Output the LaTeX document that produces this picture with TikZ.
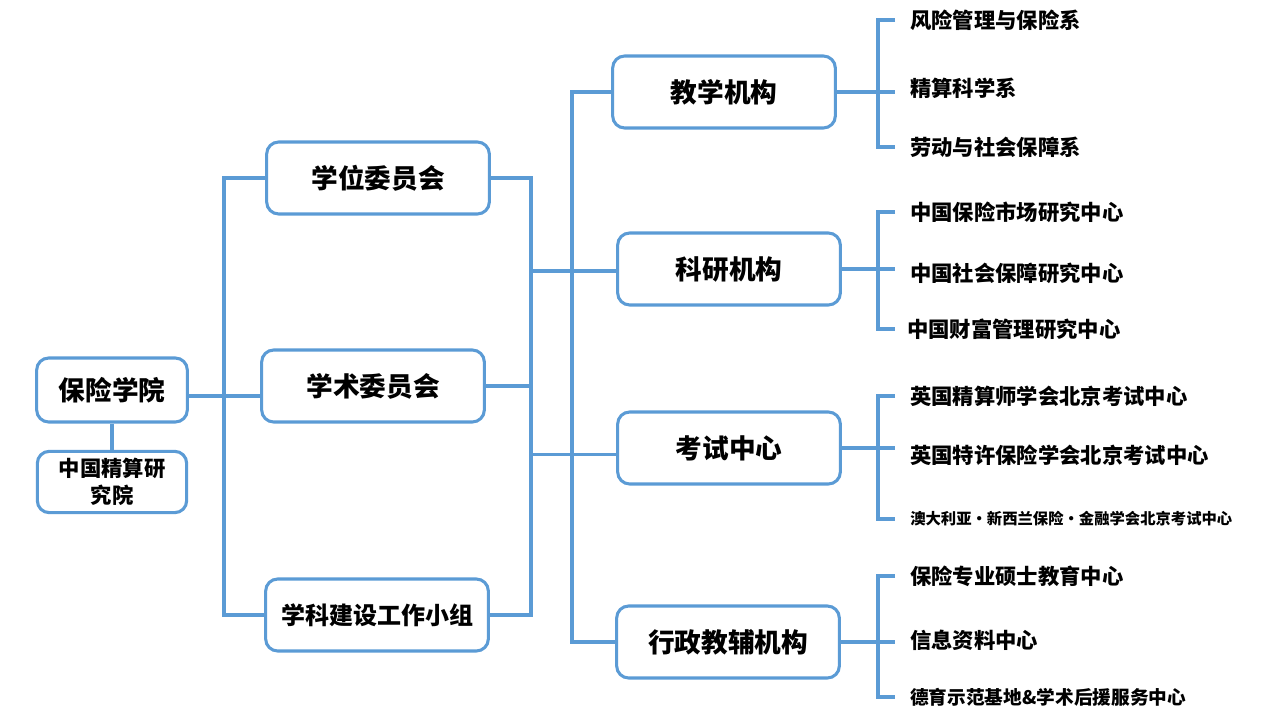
\documentclass[tikz,border=0pt]{standalone}
\usepackage{fontspec}
\setmainfont{Noto Sans CJK SC}
\definecolor{lineblue}{RGB}{91,155,213}
\begin{document}
\begin{tikzpicture}[x=0.75pt, y=-0.75pt,
  link/.style = {draw=lineblue, line width=2.3pt},
  box/.style = {shape=rectangle, rounded corners=9pt,
    draw=lineblue, line width=2.3pt, align=center,
    minimum width=167pt, minimum height=54pt,
    font=\bfseries\fontsize{20}{24}\selectfont},
  item/.style = {anchor=west, inner sep=0pt,
    font=\bfseries\fontsize{16}{19}\selectfont}]
  \useasboundingbox (0,0) rectangle (1280,720);
  % left part
  \node[box, minimum width=113pt, minimum height=48pt] (bxxy) at (112,390) {保险学院};
  \node[box, minimum width=112pt, minimum height=46pt,
    font=\bfseries\fontsize{16}{20}\selectfont] (jsyjy) at (112,482) {中国精算研\\究院};
  \node[box] (xwwyh) at (378,178) {学位委员会};
  \node[box] (xswyh) at (373,386) {学术委员会};
  \node[box, font=\bfseries\fontsize{18}{22}\selectfont] (xkjs) at (377,615) {学科建设工作小组};
  % middle part
  \node[box] (jx) at (724,92) {教学机构};
  \node[box] (ky) at (729,269) {科研机构};
  \node[box] (ks) at (729,448) {考试中心};
  \node[box] (xz) at (728,642) {行政教辅机构};
  % right part
  \node[item] (jx1) at (910,20) {风险管理与保险系};
  \node[item] (jx2) at (910,88) {精算科学系};
  \node[item] (jx3) at (910,147) {劳动与社会保障系};
  \node[item] (ky1) at (910,212) {中国保险市场研究中心};
  \node[item] (ky2) at (910,273) {中国社会保障研究中心};
  \node[item] (ky3) at (907,329) {中国财富管理研究中心};
  \node[item] (ks1) at (910,396) {英国精算师学会北京考试中心};
  \node[item] (ks2) at (910,455) {英国特许保险学会北京考试中心};
  \node[item, font=\bfseries\fontsize{11.5}{14}\selectfont] (ks3) at (910,519) {澳大利亚·新西兰保险·金融学会北京考试中心};
  \node[item] (xz1) at (910,576) {保险专业硕士教育中心};
  \node[item] (xz2) at (910,640) {信息资料中心};
  \node[item, font=\bfseries\fontsize{14}{17}\selectfont] (xz3) at (910,697) {德育示范基地\&学术后援服务中心};
  % connectors
  \coordinate (lb) at (224,0);
  \coordinate (rb) at (531,0);
  \coordinate (ib) at (572,0);
  \coordinate (br) at (878,0);
  \coordinate (tick) at (895,0);
  \draw[link] (bxxy) -- (jsyjy);
  \draw[link] ([yshift=-4.5pt]bxxy.east) -- ([yshift=-4.5pt]bxxy.east -| xswyh.west);
  \draw[link] (xwwyh.west) -- (xwwyh.west -| lb) -- (xkjs.west -| lb) -- (xkjs.west);
  \draw[link] (xwwyh.east) -- (xwwyh.east -| rb) -- (xkjs.east -| rb) -- (xkjs.east);
  \draw[link] (xswyh.east) -- (xswyh.east -| rb);
  \draw[link] ([yshift=-1.5pt]ky.west) -- ([yshift=-1.5pt]ky.west -| rb);
  \draw[link] ([yshift=-5pt]ks.west) -- ([yshift=-5pt]ks.west -| rb);
  \draw[link] (jx.west) -- (jx.west -| ib) -- (xz.west -| ib) -- (xz.west);
  \foreach \g in {jx,ky,ks,xz} {
    \draw[link] (\g.east) -- (\g.east -| tick);
    \draw[link] (\g1.west -| tick) -- (\g1.west -| br) -- (\g3.west -| br) -- (\g3.west -| tick);
  }
\end{tikzpicture}
\end{document}
